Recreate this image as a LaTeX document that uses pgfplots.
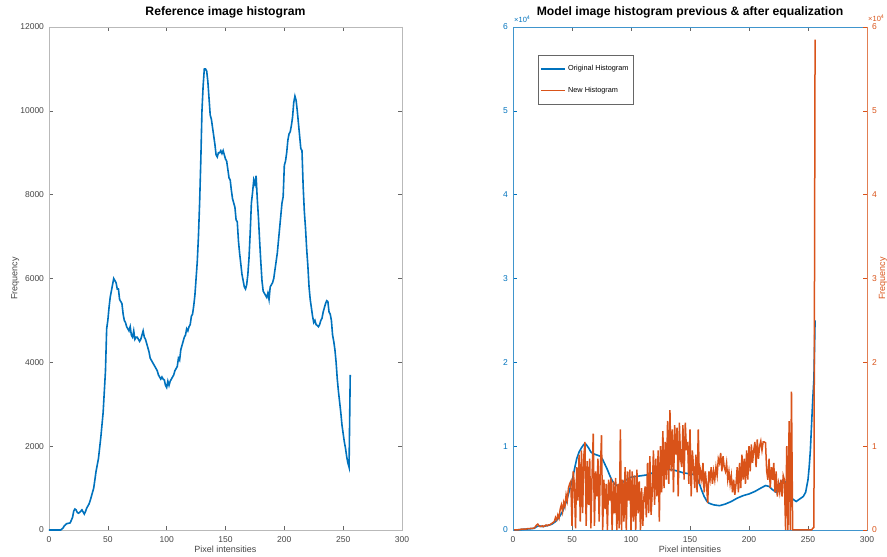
\documentclass[border=0pt]{standalone}
\usepackage{fontspec}
\setmainfont{Liberation Sans}
\usepackage{pgfplots}
\pgfplotsset{compat=1.18}
\definecolor{mblue}{RGB}{0,114,189}
\definecolor{morange}{RGB}{217,83,25}
\definecolor{tgray}{RGB}{70,70,70}
\pgfplotsset{base/.style={
  scale only axis, anchor=south west, height=503pt,
  xmin=0, xmax=300, xtick={0,50,...,300},
  scaled y ticks=false, scaled x ticks=false,
  tick align=inside, major tick length=4pt,
  tick label style={font=\fontsize{8.5}{9}\selectfont},
  /pgf/number format/assume math mode=true,
  /pgf/number format/1000 sep={},
  label style={font=\fontsize{9}{10}\selectfont, text=tgray},
  title style={font=\bfseries\fontsize{12.2}{14}\selectfont, at={(0.5,1)}, anchor=base, yshift=5pt},
  xticklabel style={yshift=-3pt, text=tgray},
  yticklabel style={xshift=-1.5pt},
  xlabel style={at={(axis description cs:0.5,0)}, anchor=base, yshift=-23pt},
  clip=false,
}}
\begin{document}
\begin{tikzpicture}
\useasboundingbox (0pt,0pt) rectangle (887pt,557pt);
% ---------------- left plot
\begin{axis}[base, at={(49pt,27pt)}, width=353pt,
  ymin=0, ymax=12000, ytick={0,2000,...,12000},
  yticklabel style={text=tgray},
  axis line style={draw=gray!55, line width=0.6pt},
  tick style={draw=gray!80!black, line width=0.5pt},
  title={Reference image histogram},
  xlabel={Pixel intensities}, ylabel={Frequency},
  ylabel style={at={(axis description cs:-0.096,0.5)}, anchor=center, rotate=0},
]
\addplot[mblue, line width=1.6pt] coordinates {
(0,0)(5,0)(10,0)(12,50)(13,100)(15,150)(18,170)(20,300)(21,450)(22,500)(23,480)(24,420)(25,400)(26,420)(28,480)(29,430)(30,380)(31,440)(32,520)(34,620)(35,700)(37,900)(38,1000)(40,1400)(42,1700)(44,2200)(45,2500)(46,2800)(47,3300)(48,3800)(49,4800)(50,5000)(51,5300)(52,5550)(54,5850)(55,6000)(56,5950)(57,5900)(58,5750)(59,5750)(60,5500)(61,5450)(62,5400)(63,5150)(64,5000)(65,4950)(66,4850)(67,4800)(68,4750)(69,4850)(70,4650)(71,4600)(72,4750)(73,4550)(74,4600)(75,4600)(76,4550)(77,4500)(78,4550)(79,4650)(80,4750)(81,4600)(82,4550)(83,4450)(84,4350)(85,4250)(86,4100)(87,4050)(88,4000)(89,3950)(90,3900)(91,3850)(92,3800)(93,3700)(94,3650)(95,3600)(96,3650)(97,3600)(98,3580)(99,3450)(100,3400)(101,3550)(102,3450)(103,3550)(104,3600)(105,3650)(106,3700)(107,3800)(108,3850)(109,3900)(110,4100)(111,4050)(112,4300)(113,4400)(114,4500)(115,4600)(116,4650)(117,4800)(118,4750)(119,4850)(120,4900)(121,5100)(122,5150)(123,5350)(124,5600)(125,6000)(126,6400)(127,7000)(128,7800)(129,8800)(130,10000)(131,10600)(132,11000)(133,11000)(134,10950)(135,10700)(136,10300)(137,9900)(138,9800)(139,9600)(140,9400)(141,9200)(142,8950)(143,8900)(144,9000)(145,9000)(146,9050)(147,8980)(148,9050)(149,8950)(150,8850)(151,8800)(152,8600)(153,8400)(154,8350)(155,8100)(156,7900)(157,7800)(158,7700)(159,7400)(160,7350)(161,6900)(162,6600)(163,6350)(164,6100)(165,5950)(166,5800)(167,5750)(168,5850)(169,6100)(170,6500)(171,7100)(172,7800)(173,8050)(174,8350)(175,8250)(176,8450)(177,7900)(178,7450)(179,6900)(180,6400)(181,5950)(182,5700)(183,5650)(184,5600)(185,5550)(186,5650)(187,5500)(188,5800)(189,5850)(190,5900)(191,6000)(192,6200)(193,6400)(194,6600)(195,6900)(196,7200)(197,7500)(198,7800)(199,7950)(200,8700)(201,8800)(202,9000)(203,9300)(204,9450)(205,9500)(206,9650)(207,9850)(208,10200)(209,10350)(210,10250)(211,10000)(212,9700)(213,9400)(214,9100)(215,9050)(216,8200)(217,7600)(218,7200)(219,6700)(220,6300)(221,5800)(222,5500)(223,5300)(224,5100)(225,4950)(226,5000)(227,4900)(228,4880)(229,4850)(230,4900)(231,5000)(232,5050)(233,5200)(234,5300)(235,5400)(236,5470)(237,5450)(238,5200)(239,5150)(240,5000)(241,4650)(242,4500)(243,4300)(244,4000)(245,3600)(246,3300)(247,3050)(248,2800)(249,2500)(250,2300)(251,2100)(252,1950)(253,1750)(254,1600)(255,1500)(256,3700)
};
\end{axis}
% ---------------- right plot, left y axis (original histogram, x10^4)
\begin{axis}[base, at={(513pt,27pt)}, width=354pt,
  ymin=0, ymax=6, ytick={0,1,...,6},
  ytick pos=left, xtick pos=both,
  x axis line style={draw=gray!55, line width=0.6pt},
  y axis line style={draw=mblue!75, line width=0.6pt},
  xtick style={draw=gray!80!black, line width=0.5pt},
  ytick style={draw=mblue, line width=0.5pt},
  yticklabel style={text=mblue},
  title={Model image histogram previous \& after equalization},
  xlabel={Pixel intensities},
]
\addplot[mblue, line width=1.6pt] coordinates {
(1,0)(5,0.003)(10,0.01)(15,0.015)(18,0.02)(20,0.04)(22,0.05)(25,0.04)(28,0.05)(30,0.055)(33,0.07)(36,0.1)(39,0.15)(42,0.22)(45,0.33)(48,0.48)(50,0.58)(52,0.72)(54,0.85)(56,0.93)(58,0.98)(60,1.02)(61,1.03)(62,1.02)(64,0.98)(66,0.93)(68,0.91)(70,0.90)(72,0.89)(74,0.88)(76,0.84)(78,0.78)(80,0.72)(82,0.65)(84,0.59)(86,0.55)(88,0.53)(90,0.54)(93,0.57)(96,0.60)(100,0.63)(105,0.64)(110,0.65)(115,0.66)(118,0.68)(122,0.70)(126,0.72)(130,0.72)(135,0.72)(140,0.70)(145,0.68)(150,0.67)(154,0.66)(156,0.62)(158,0.55)(160,0.47)(162,0.40)(164,0.35)(166,0.32)(170,0.30)(175,0.29)(180,0.31)(185,0.34)(190,0.38)(195,0.41)(200,0.43)(205,0.46)(210,0.50)(214,0.53)(217,0.52)(220,0.48)(223,0.45)(226,0.55)(229,0.60)(232,0.55)(234,0.45)(236,0.38)(238,0.36)(240,0.34)(243,0.37)(246,0.40)(248,0.45)(250,0.6)(251,0.75)(252,0.95)(253,1.25)(254,1.55)(255,1.8)(256,2.5)
};
\node[anchor=base west, font=\fontsize{7.5}{8}\selectfont, text=mblue, inner sep=0pt] at (rel axis cs:0,1) [xshift=1pt, yshift=4pt] {×10\textsuperscript{4}};
\end{axis}
% ---------------- right plot, right y axis (new histogram, x10^4)
\begin{axis}[base, at={(513pt,27pt)}, width=354pt,
  ymin=0, ymax=6, ytick={0,1,...,6},
  axis x line=none, axis y line*=right,
  y axis line style={draw=morange!75, line width=0.6pt},
  ytick style={draw=morange, line width=0.5pt},
  yticklabel style={text=morange, xshift=3pt},
  ylabel={Frequency},
  ylabel style={at={(axis description cs:1.045,0.5)}, anchor=center, rotate=0, text=morange},
  legend style={at={(0.07,0.944)}, anchor=north west, draw=gray!80!black, line width=0.5pt,
    font=\fontsize{7.3}{8}\selectfont, row sep=11pt, inner xsep=2.5pt, inner ysep=8pt},
  legend cell align=left,
  legend image code/.code={\draw[#1, line width=1.6pt] (0pt,0pt) -- (24pt,0pt);},
]
\addlegendimage{mblue}
\addlegendentry{Original Histogram}
\addlegendimage{morange}
\addlegendentry{New Histogram}
\addplot[morange, line width=1.5pt, forget plot] coordinates {
(1,0)(2,0)(3,0)(4,0)(5,0.005)(6,0.005)(7,0.01)(8,0.01)(9,0.01)(10,0.01)(11,0.01)(12,0.015)(13,0.015)(14,0.015)(15,0.02)(16,0.02)(17,0.02)(18,0.025)(19,0.04)(20,0.06)
(21,0.07)(22,0.05)(23,0.04)(24,0.045)(25,0.05)(26,0.04)(27,0.05)(28,0.06)(29,0.05)(30,0.06)
(31,0.06)(32,0.07)(33,0.08)(34,0.09)(35,0.10)(36,0.15)(37,0.12)(38,0.18)(39,0.14)(40,0.25)
(41,0.30)(42,0.22)(43,0.33)(44,0.28)(45,0.42)(46,0.35)(47,0.50)(48,0.55)(49,0.58)(50,0.05)
(51,0.70)(52,0.55)(53,0.02)(54,0.75)(55,0.35)(56,0.90)(57,0.10)(58,0.95)(59,0.20)(60,0.88)
(61,1.05)(62,0.05)(63,0.82)(64,0.30)(65,0.85)(66,0.02)(67,0.65)(68,1.15)(69,0.05)(70,0.70)
(71,0.40)(72,0.85)(73,0.10)(74,0.70)(75,1.13)(76,0)(77,0.60)(78,0.25)(79,0.55)(80,0)
(81,0.60)(82,0.35)(83,0.62)(84,0)(85,0.58)(86,0.20)(87,0.62)(88,0)(89,0.55)(90,0.02)
(91,1.20)(92,0)(93,0.60)(94,0.10)(95,0.75)(96,0)(97,0.70)(98,0.35)(99,0.72)(100,0)
(101,0.70)(102,0.10)(103,0.65)(104,0)(105,0.72)(106,0.20)(107,0.58)(108,0)(109,0.50)(110,0.05)
(111,0.40)(112,0.52)(113,0.15)(114,0.80)(115,0.20)(116,0.88)(117,0.18)(118,0.45)(119,0.95)(120,0.30)
(121,0.85)(122,0.40)(123,0.95)(124,0.10)(125,1.00)(126,0.45)(127,1.18)(128,0.50)(129,1.05)(130,0.60)
(131,1.30)(132,0.55)(133,1.43)(134,0.70)(135,1.20)(136,0.45)(137,1.25)(138,0.90)(139,1.22)(140,0.40)
(141,1.28)(142,0.85)(143,0.75)(144,1.25)(145,0.60)(146,1.28)(147,0.95)(148,1.05)(149,0.55)(150,1.20)
(151,0.40)(152,0.95)(153,0.75)(154,0.50)(155,0.90)(156,0.45)(157,1.20)(158,0.55)(159,0.70)(160,0.60)
(161,0.80)(162,0.45)(163,0.70)(164,0.55)(165,0.32)(166,0.70)(167,0.60)(168,0.75)(169,0.55)(170,0.70)
(171,0.60)(172,0.75)(173,0.65)(174,0.85)(175,0.80)(176,0.92)(177,0.70)(178,0.88)(179,0.75)(180,0.70)
(181,0.80)(182,0.60)(183,0.70)(184,0.55)(185,0.65)(186,0.45)(187,0.60)(188,0.42)(189,0.55)(190,0.75)
(191,0.45)(192,0.80)(193,0.50)(194,0.90)(195,0.60)(196,0.85)(197,0.55)(198,0.95)(199,0.60)(200,1.00)
(201,0.70)(202,1.02)(203,0.80)(204,0.95)(205,1.05)(206,0.75)(207,1.08)(208,0.85)(209,1.00)(210,1.06)
(211,0.95)(212,1.05)(213,1.05)(214,1.04)(215,0.70)(216,0.60)(217,0.85)(218,0.50)(219,0.75)(220,0.60)
(221,0.80)(222,0.45)(223,0.70)(224,0.40)(225,0.55)(226,0.45)(227,0.60)(228,0.40)(229,0.65)(230,0.60)
(231,0)(232,1.00)(233,0)(234,1.30)(235,0)(236,1.65)(237,0)(238,0)(239,0)(240,0)
(241,0)(242,0)(243,0)(244,0)(245,0)(246,0)(247,0)(248,0)(249,0)(250,0)(251,0)(252,0)(253,0)(254,0.02)(255,0.03)(256,5.85)
};
\node[anchor=base west, font=\fontsize{7.5}{8}\selectfont, text=morange, inner sep=0pt] at (rel axis cs:1,1) [xshift=1pt, yshift=5pt] {×10\textsuperscript{4}};
\end{axis}
\end{tikzpicture}
\end{document}
